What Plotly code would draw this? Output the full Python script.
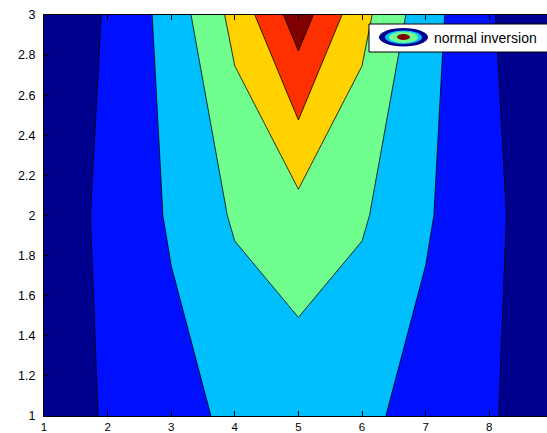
import plotly.graph_objects as go

# ---- data ----
x_vals = [1, 2, 3, 4, 5, 6, 7, 8, 9]
y_vals = [1, 2, 3]
z_row_y1 = [0.43, 1.10, 1.70, 2.18, 2.40, 2.18, 1.70, 1.10, 0.43]
z_row_y2 = [0.11, 1.33, 2.10, 3.12, 3.62, 3.12, 2.10, 1.33, 0.11]
z_row_y3 = [0.64, 1.04, 2.41, 4.30, 6.52, 4.30, 2.41, 1.04, 0.64]
z_grid = [z_row_y1, z_row_y2, z_row_y3]

level_start, level_end, level_step = 1, 6, 1
band_colors = ["#00008F", "#0010FF", "#00BFFF", "#70FF8F", "#FFD200", "#FF3000", "#800000"]
x_ticks = [1, 2, 3, 4, 5, 6, 7, 8]
y_ticks = [1, 1.2, 1.4, 1.6, 1.8, 2, 2.2, 2.4, 2.6, 2.8, 3]
legend_label = "normal inversion"

W, H = 547, 433
ML, MR, MT, MB = 44, 0, 15, 17
PW, PH = W - ML - MR, H - MT - MB

def px2paper(px, py):
    return (px - ML) / PW, 1 - (py - MT) / PH

n = len(band_colors)
colorscale = [[i / (n - 1), c] for i, c in enumerate(band_colors)]

fig = go.Figure()
fig.add_trace(go.Contour(
    x=x_vals, y=y_vals, z=z_grid,
    autocontour=False,
    contours=dict(start=level_start, end=level_end, size=level_step, coloring="fill"),
    colorscale=colorscale,
    showscale=False,
    line=dict(color="black", width=0.8, smoothing=0),
    hoverinfo="skip",
))

# legend drawn like the MATLAB contour legend
shapes = []
x0, y0 = px2paper(369, 24)
x1, y1 = px2paper(560, 52)
shapes.append(dict(type="rect", xref="paper", yref="paper", x0=x0, x1=x1, y0=y1, y1=y0,
                   fillcolor="white", line=dict(color="black", width=1), layer="above"))
icon = [((379, 28), (428, 46.5), band_colors[0]),
        ((385, 30.5), (422, 44), band_colors[2]),
        ((389, 31.5), (418, 43), band_colors[3]),
        ((397, 34), (410, 40), band_colors[6])]
for (ax, ay), (bx, by), col in icon:
    a0, b0 = px2paper(ax, ay)
    a1, b1 = px2paper(bx, by)
    shapes.append(dict(type="circle", xref="paper", yref="paper", x0=a0, x1=a1, y0=b1, y1=b0,
                       fillcolor=col, line=dict(width=0), layer="above"))

tx, ty = px2paper(432, 38)
fig.update_layout(
    width=W, height=H,
    margin=dict(l=ML, r=MR, t=MT, b=MB, pad=0),
    paper_bgcolor="white", plot_bgcolor="white",
    font=dict(family="Liberation Sans, Arial, sans-serif", size=12, color="black"),
    showlegend=False,
    shapes=shapes,
    annotations=[dict(text=legend_label, xref="paper", yref="paper", x=tx, y=ty,
                      xanchor="left", yanchor="middle", showarrow=False,
                      font=dict(size=14, color="black"))],
    xaxis=dict(range=[1, 1 + (W - ML) / 63.6], tickvals=x_ticks, ticktext=[str(v) for v in x_ticks],
               ticks="inside", ticklen=5, tickcolor="black", showline=True, linecolor="black",
               linewidth=1, mirror="ticks", showgrid=False, zeroline=False, automargin=False,
               tickfont=dict(size=11.5), ticklabelstandoff=0),
    yaxis=dict(range=[1, 3], tickvals=y_ticks, ticktext=[f"{v:g}" for v in y_ticks],
               ticks="inside", ticklen=5, tickcolor="black", showline=True, linecolor="black",
               linewidth=1, showgrid=False, zeroline=False, automargin=False,
               tickfont=dict(size=12.5), ticklabelstandoff=5),
)
fig.write_html("out.html",
               config={"displayModeBar": False, "staticPlot": True},
               post_script="document.body.style.margin='0';document.body.style.overflow='hidden';")
